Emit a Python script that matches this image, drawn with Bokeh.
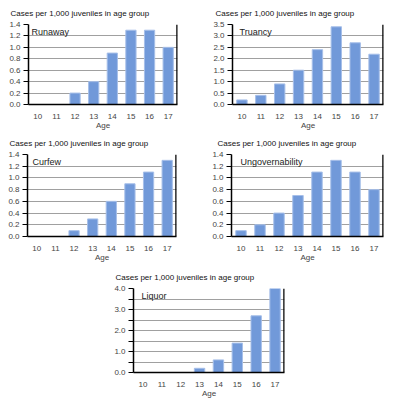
from bokeh.plotting import figure
from bokeh.layouts import column, row
from bokeh.models import (Range1d, FixedTicker, PrintfTickFormatter, Label,
                          Span, Spacer)
from bokeh.embed import file_html
from bokeh.resources import INLINE

ages = [10, 11, 12, 13, 14, 15, 16, 17]
age_labels = ["10", "11", "12", "13", "14", "15", "16", "17"]

runaway = [0.0, 0.0, 0.2, 0.4, 0.9, 1.3, 1.3, 1.0]
truancy = [0.2, 0.4, 0.9, 1.5, 2.4, 3.4, 2.7, 2.2]
curfew = [0.0, 0.0, 0.1, 0.3, 0.6, 0.9, 1.1, 1.3]
ungovernability = [0.1, 0.2, 0.4, 0.7, 1.1, 1.3, 1.1, 0.8]
liquor = [0.0, 0.0, 0.0, 0.2, 0.6, 1.4, 2.7, 4.0]

ticks_14 = [0.0, 0.2, 0.4, 0.6, 0.8, 1.0, 1.2, 1.4]
ticks_35 = [0.0, 0.5, 1.0, 1.5, 2.0, 2.5, 3.0, 3.5]
ticks_40 = [0.0, 1.0, 2.0, 3.0, 4.0]
minor_40 = [0.5, 1.5, 2.5, 3.5]

TITLE = "Cases per 1,000 juveniles in age group"
FONT = "Liberation Sans"
BAR = "#7199d9"
BAR_EDGE = "#a6bfe9"
GRID = "#a0a0a0"


def panel(name, values, ymax, label_ticks, minor_ticks, w, h, left, right, top,
          bottom, title_off, name_off):
    p = figure(width=w, height=h, output_backend="svg", toolbar_location=None,
               x_range=Range1d(9.5, 17.5), y_range=Range1d(0, ymax),
               min_border_left=left, min_border_right=right,
               min_border_top=top, min_border_bottom=bottom,
               title=TITLE)
    p.title.text_font = FONT
    p.title.text_font_size = "8px"
    p.title.text_font_style = "normal"
    p.title.text_color = "#111111"
    p.title.align = "left"
    p.title.offset = title_off
    p.title.vertical_align = "top"
    p.title.standoff = 10
    p.outline_line_color = None
    p.background_fill_color = "white"
    p.border_fill_color = "white"

    p.vbar(x=ages, top=values, width=0.55, fill_color=BAR,
           line_color=BAR_EDGE, line_width=1)

    p.xgrid.visible = False
    p.ygrid.grid_line_color = GRID
    p.ygrid.grid_line_width = 1
    if minor_ticks:
        p.ygrid.minor_grid_line_color = GRID
        p.ygrid.minor_grid_line_width = 1

    xa = p.xaxis[0]
    xa.ticker = FixedTicker(ticks=ages)
    xa.major_label_overrides = {a: s for a, s in zip(ages, age_labels)}
    xa.axis_label = "Age"
    xa.axis_label_text_font = FONT
    xa.axis_label_text_font_size = "8px"
    xa.axis_label_text_font_style = "normal"
    xa.axis_label_standoff = -1
    xa.major_label_text_font = FONT
    xa.major_label_text_font_size = "8px"
    xa.major_label_standoff = 3
    xa.major_tick_line_color = None
    xa.minor_tick_line_color = None
    xa.axis_line_color = "black"
    xa.axis_line_width = 1.5

    ya = p.yaxis[0]
    ya.ticker = FixedTicker(ticks=label_ticks, minor_ticks=minor_ticks)
    ya.formatter = PrintfTickFormatter(format="%.1f")
    ya.major_label_text_font = FONT
    ya.major_label_text_font_size = "8px"
    ya.major_label_standoff = 3
    ya.major_tick_in = 0
    ya.major_tick_out = 5
    ya.minor_tick_in = 0
    ya.minor_tick_out = 5
    ya.major_tick_line_color = "black"
    ya.minor_tick_line_color = "black"
    ya.axis_line_color = "black"
    ya.axis_line_width = 1.5

    # heavy right-hand border of the plot box
    p.add_layout(Span(location=17.5, dimension="height", line_color="black",
                      line_width=2.5))

    p.add_layout(Label(x=9.5, y=ymax, x_offset=name_off, y_offset=-2,
                       text=name, text_font=FONT, text_font_size="9px",
                       text_baseline="top", text_color="#222222"))
    return p


p1 = panel("Runaway", runaway, 1.4, ticks_14, [],
           200, 132, 28, 23, 23, 26, -18, 3)
p2 = panel("Truancy", truancy, 3.5, ticks_35, [],
           200, 132, 32, 17, 24, 25, -17, 7)
p3 = panel("Curfew", curfew, 1.4, ticks_14, [],
           200, 132, 27, 24, 22, 27, -18, 5)
p4 = panel("Ungovernability", ungovernability, 1.4, ticks_14, [],
           200, 132, 31, 17, 22, 27, -14, 9)
p5 = panel("Liquor", liquor, 4.0, ticks_40, minor_40,
           200, 144, 33, 16, 24, 36, -18, 8)

layout = column(row(p1, p2, spacing=0),
                row(p3, p4, spacing=0),
                row(Spacer(width=100, height=144), p5, spacing=0),
                spacing=0)

open("out.html", "w").write(file_html(layout, INLINE))
